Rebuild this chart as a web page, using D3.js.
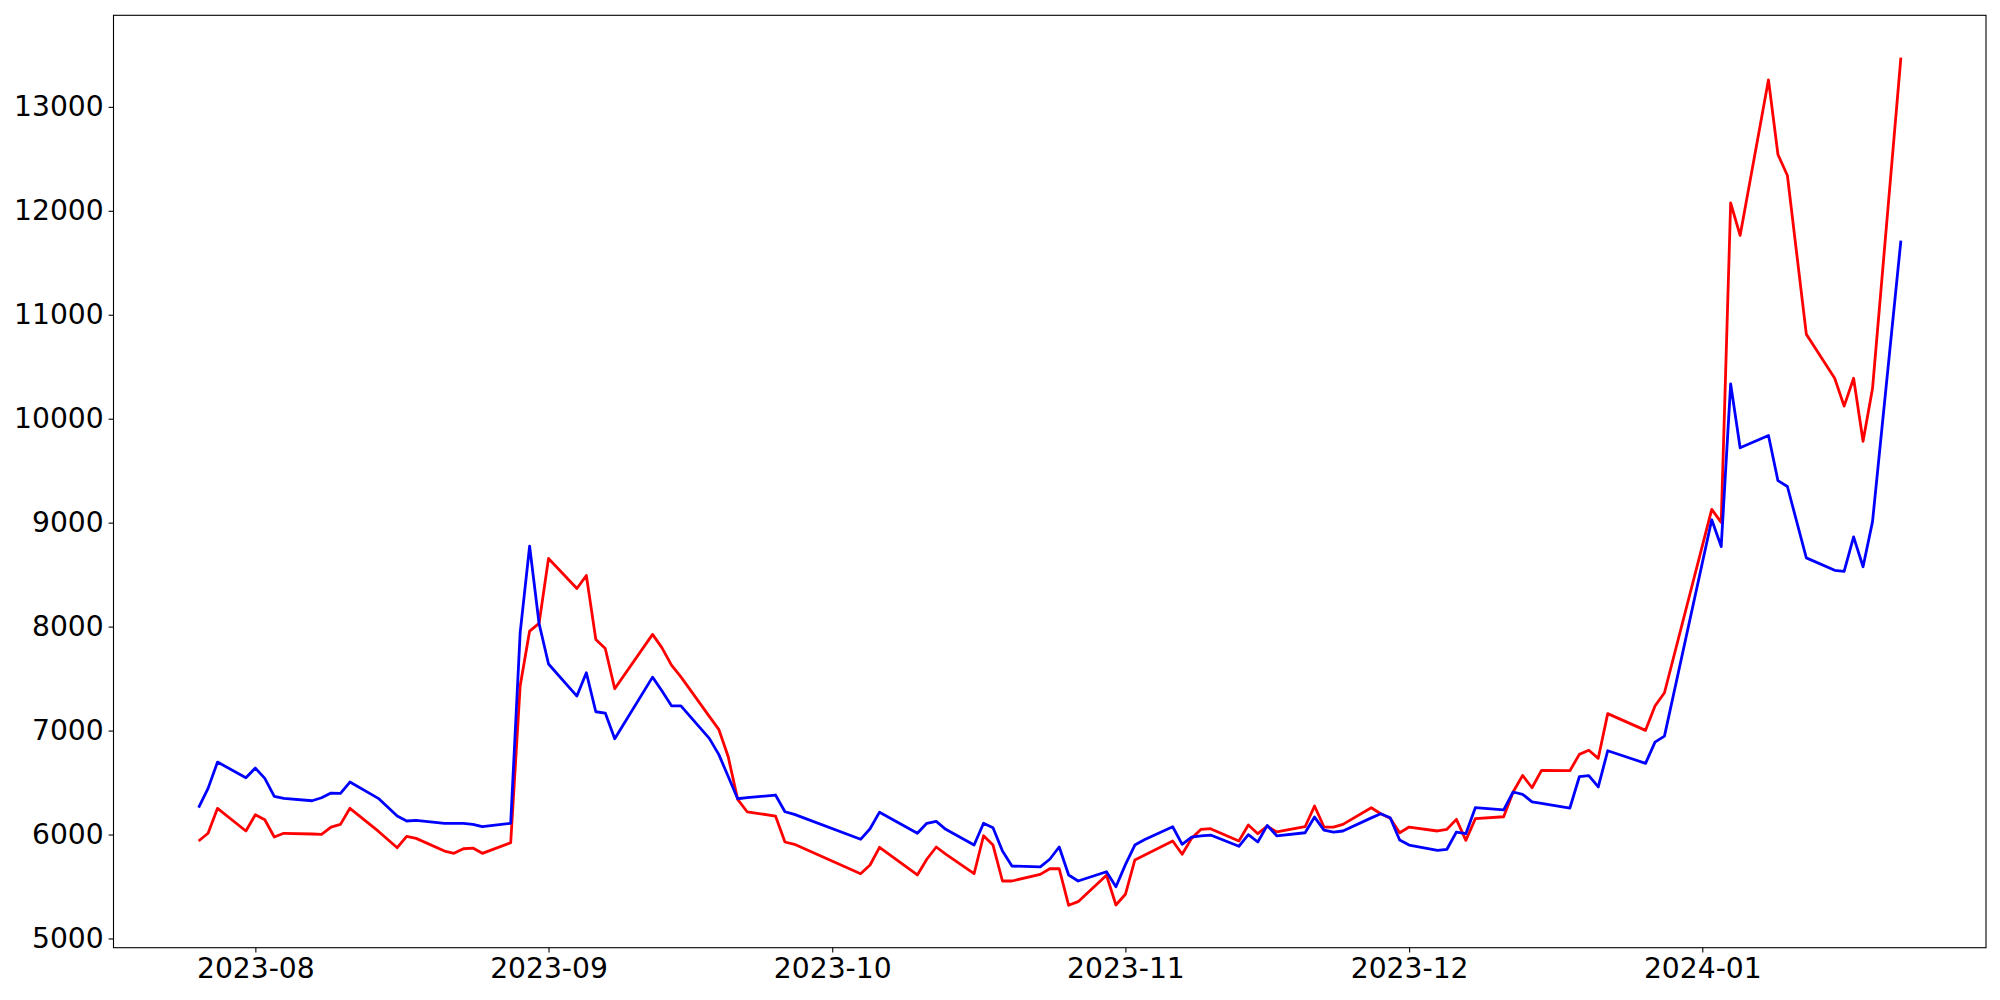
<!DOCTYPE html>
<html>
<head>
<meta charset="utf-8">
<script src="https://cdn.jsdelivr.net/npm/d3@7"></script>
<style>
  html, body { margin: 0; padding: 0; background: #fff; }
</style>
</head>
<body>
<script>
const width = 2000;
const height = 1000;
const margin = { top: 15.3, right: 14, bottom: 52.3, left: 113.5 };

// trading days
const dates = [
  "2023-07-26", "2023-07-27", "2023-07-28", "2023-07-31", "2023-08-01", "2023-08-02",
  "2023-08-03", "2023-08-04", "2023-08-07", "2023-08-08", "2023-08-09", "2023-08-10",
  "2023-08-11", "2023-08-14", "2023-08-16", "2023-08-17", "2023-08-18", "2023-08-21",
  "2023-08-22", "2023-08-23", "2023-08-24", "2023-08-25", "2023-08-28", "2023-08-29",
  "2023-08-30", "2023-08-31", "2023-09-01", "2023-09-04", "2023-09-05", "2023-09-06",
  "2023-09-07", "2023-09-08", "2023-09-12", "2023-09-13", "2023-09-14", "2023-09-15",
  "2023-09-18", "2023-09-19", "2023-09-20", "2023-09-21", "2023-09-22", "2023-09-25",
  "2023-09-26", "2023-09-27", "2023-10-04", "2023-10-05", "2023-10-06", "2023-10-10",
  "2023-10-11", "2023-10-12", "2023-10-13", "2023-10-16", "2023-10-17", "2023-10-18",
  "2023-10-19", "2023-10-20", "2023-10-23", "2023-10-24", "2023-10-25", "2023-10-26",
  "2023-10-27", "2023-10-30", "2023-10-31", "2023-11-01", "2023-11-02", "2023-11-03",
  "2023-11-06", "2023-11-07", "2023-11-08", "2023-11-09", "2023-11-10", "2023-11-13",
  "2023-11-14", "2023-11-15", "2023-11-16", "2023-11-17", "2023-11-20", "2023-11-21",
  "2023-11-22", "2023-11-23", "2023-11-24", "2023-11-27", "2023-11-28", "2023-11-29",
  "2023-11-30", "2023-12-01", "2023-12-04", "2023-12-05", "2023-12-06", "2023-12-07",
  "2023-12-08", "2023-12-11", "2023-12-12", "2023-12-13", "2023-12-14", "2023-12-15",
  "2023-12-18", "2023-12-19", "2023-12-20", "2023-12-21", "2023-12-22", "2023-12-26",
  "2023-12-27", "2023-12-28", "2024-01-02", "2024-01-03", "2024-01-04", "2024-01-05",
  "2024-01-08", "2024-01-09", "2024-01-10", "2024-01-12", "2024-01-15", "2024-01-16",
  "2024-01-17", "2024-01-18", "2024-01-19", "2024-01-22"
];

const redValues = [
  5938, 6012, 6252, 6034, 6190, 6142,
  5976, 6012, 6005, 6002, 6072, 6098,
  6252, 6032, 5873, 5983, 5963, 5841,
  5819, 5863, 5870, 5819, 5921, 7428,
  7957, 8031, 8656, 8367, 8492, 7877,
  7790, 7402, 7925, 7796, 7630, 7517,
  7137, 7012, 6748, 6338, 6219, 6178,
  5928, 5906, 5623, 5707, 5877, 5611,
  5762, 5880, 5812, 5623, 5988, 5899,
  5553, 5553, 5617, 5671, 5671, 5319,
  5354, 5608, 5322, 5425, 5755, 5800,
  5938, 5810, 5963, 6050, 6056, 5938,
  6091, 6008, 6080, 6025, 6075, 6274,
  6072, 6072, 6098, 6258, 6200, 6156,
  6017, 6072, 6034, 6050, 6146, 5944,
  6152, 6171, 6409, 6569, 6450, 6617,
  6614, 6771, 6811, 6733, 7163, 7002,
  7236, 7364, 9128, 9003, 12075, 11763,
  13260, 12542, 12340, 10813, 10389, 10121,
  10389, 9783, 10290, 13473
];

const blueValues = [
  6258, 6444, 6697, 6546, 6639, 6540,
  6367, 6348, 6325, 6354, 6399, 6396,
  6505, 6348, 6178, 6130, 6137, 6108,
  6108, 6108, 6098, 6075, 6108, 7940,
  8774, 8030, 7640, 7332, 7556, 7181,
  7168, 6921, 7514, 7380, 7238, 7238,
  6925, 6771, 6558, 6344, 6354, 6380,
  6219, 6194, 5954, 6056, 6215, 6012,
  6108, 6127, 6050, 5899, 6108, 6065,
  5841, 5697, 5688, 5762, 5880, 5611,
  5553, 5642, 5498, 5710, 5899, 5950,
  6075, 5906, 5976, 5986, 5995, 5887,
  5998, 5928, 6088, 5988, 6017, 6168,
  6043, 6024, 6034, 6160, 6200, 6162,
  5947, 5899, 5848, 5858, 6024, 6008,
  6258, 6238, 6409, 6387, 6315, 6300,
  6255, 6556, 6567, 6458, 6806, 6685,
  6889, 6947, 9028, 8770, 10335, 9720,
  9838, 9404, 9348, 8661, 8542, 8531,
  8863, 8576, 9010, 11714
];

const yTicks = [5000, 6000, 7000, 8000, 9000, 10000, 11000, 12000, 13000];

const parseDate = d3.utcParse("%Y-%m-%d");
const days = dates.map(parseDate);

const red = days.map((d, i) => ({ date: d, value: redValues[i] }));
const blue = days.map((d, i) => ({ date: d, value: blueValues[i] }));

const svg = d3
  .select("body")
  .append("svg")
  .attr("width", width)
  .attr("height", height)
  .style("display", "block")
  .style("font-family", "DejaVu Sans");

const innerW = width - margin.left - margin.right;
const innerH = height - margin.top - margin.bottom;

// matplotlib style 5% padding on both axes
const xExt = d3.extent(days);
const xPad = (xExt[1] - xExt[0]) * 0.05;
const x = d3
  .scaleUtc()
  .domain([new Date(+xExt[0] - xPad), new Date(+xExt[1] + xPad)])
  .range([margin.left, margin.left + innerW]);

const allValues = redValues.concat(blueValues);
const yMin = d3.min(allValues);
const yMax = d3.max(allValues);
const yPad = (yMax - yMin) * 0.05;
const y = d3
  .scaleLinear()
  .domain([yMin - yPad, yMax + yPad])
  .range([margin.top + innerH, margin.top]);

const line = d3
  .line()
  .x((d) => x(d.date))
  .y((d) => y(d.value));

svg.append("path")
  .datum(red)
  .attr("d", line)
  .attr("fill", "none")
  .attr("stroke", "#ff0000")
  .attr("stroke-width", 2.8)
  .attr("stroke-linejoin", "round");

svg.append("path")
  .datum(blue)
  .attr("d", line)
  .attr("fill", "none")
  .attr("stroke", "#0000ff")
  .attr("stroke-width", 2.8)
  .attr("stroke-linejoin", "round");

/* ***************************** axes ***************************** */

const xAxis = d3
  .axisBottom(x)
  .ticks(d3.utcMonth.every(1))
  .tickFormat(d3.utcFormat("%Y-%m"))
  .tickSize(4.9)
  .tickPadding(4.9);

const yAxis = d3
  .axisLeft(y)
  .tickValues(yTicks)
  .tickFormat(d3.format("d"))
  .tickSize(4.9)
  .tickPadding(4.9);

const gx = svg.append("g")
  .attr("transform", `translate(0,${margin.top + innerH})`)
  .call(xAxis);

const gy = svg.append("g")
  .attr("transform", `translate(${margin.left},0)`)
  .call(yAxis);

[gx, gy].forEach((g) => {
  g.select(".domain").remove();
  g.selectAll(".tick line").attr("stroke", "#000").attr("stroke-width", 1.1);
  g.selectAll(".tick text")
    .attr("fill", "#000")
    .style("font-size", "28.2px")
    .style("font-family", "DejaVu Sans");
});

// frame around the plot
svg.append("rect")
  .attr("x", margin.left)
  .attr("y", margin.top)
  .attr("width", innerW)
  .attr("height", innerH)
  .attr("fill", "none")
  .attr("stroke", "#000")
  .attr("stroke-width", 1.1);
</script>
</body>
</html>
